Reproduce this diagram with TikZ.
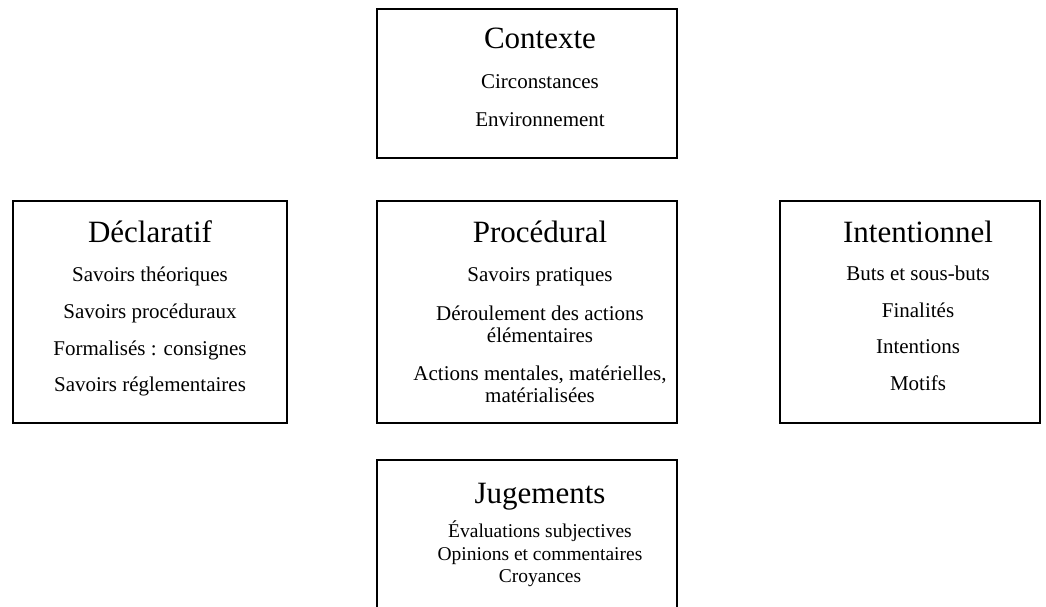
\documentclass[tikz,border=0pt]{standalone}
\usepackage{fontspec}
\setmainfont{Liberation Serif}
\begin{document}
\begin{tikzpicture}[x=1pt,y=-1pt,
  panel/.style={draw=black,line width=1.5pt,rectangle,inner sep=0pt},
  heading/.style={anchor=base,inner sep=0pt,font=\fontsize{31}{36}\selectfont},
  item/.style={anchor=base,inner sep=0pt,font=\fontsize{21}{23}\selectfont},
  smallitem/.style={anchor=base,inner sep=0pt,font=\fontsize{19.5}{22}\selectfont}]
\useasboundingbox (0,0) rectangle (1046,606);
\clip (0,0) rectangle (1046,606);

% Boxes; the bottom panel runs past the lower edge
\node[panel,minimum width=300pt,minimum height=149pt] (ctxbox) at (527,83.5) {};
\node[panel,minimum width=274pt,minimum height=222pt] (decbox) at (150,312) {};
\node[panel,minimum width=300pt,minimum height=222pt] (probox) at (527,312) {};
\node[panel,minimum width=260pt,minimum height=222pt] (intbox) at (910,312) {};
\node[panel,minimum width=300pt,minimum height=200pt] (jugbox) at (527,560) {};

% Contexte
\node[heading] (ctxT) at (540,48) {Contexte};
\node[item] (ctx1) at (540,88) {Circonstances};
\node[item] (ctx2) at (540,126) {Environnement};

% Déclaratif
\node[heading] (decT) at (150,242) {Déclaratif};
\node[item] (dec1) at (150,281) {Savoirs théoriques};
\node[item] (dec2) at (150,318) {Savoirs procéduraux};
\node[item] (dec3) at (150,355) {Formalisés : consignes};
\node[item] (dec4) at (150,391) {Savoirs réglementaires};

% Procédural
\node[heading] (proT) at (540,242) {Procédural};
\node[item] (pro1) at (540,281) {Savoirs pratiques};
\node[item] (pro2) at (540,320) {Déroulement des actions};
\node[item] (pro3) at (540,342) {élémentaires};
\node[item] (pro4) at (540,380) {Actions mentales, matérielles,};
\node[item] (pro5) at (540,402) {matérialisées};

% Intentionnel
\node[heading] (intT) at (918,242) {Intentionnel};
\node[item] (int1) at (918,280) {Buts et sous-buts};
\node[item] (int2) at (918,317) {Finalités};
\node[item] (int3) at (918,353) {Intentions};
\node[item] (int4) at (918,390) {Motifs};

% Jugements
\node[heading] (jugT) at (540,503) {Jugements};
\node[smallitem] (jug1) at (540,537) {Évaluations subjectives};
\node[smallitem] (jug2) at (540,560) {Opinions et commentaires};
\node[smallitem] (jug3) at (540,582) {Croyances};
\end{tikzpicture}
\end{document}
